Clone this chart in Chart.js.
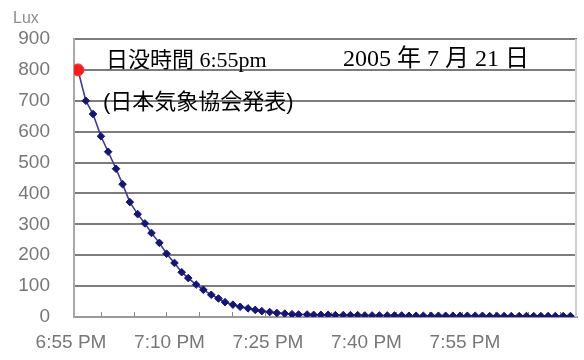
<!DOCTYPE html>
<html><head><meta charset="utf-8">
<script src="https://cdn.jsdelivr.net/npm/chart.js@4"></script>
<style>html,body{margin:0;padding:0;background:#fff}#wrap{width:584px;height:360px}</style>
</head><body><div id="wrap"><canvas id="c" width="584" height="360"></canvas></div>
<script>
// minutes after 6:55 PM
const minutes = [0.6,1.8,2.9,4.1,5.2,6.4,7.4,8.5,9.7,10.8,
  11.8,13.0,14.1,15.3,16.4,17.4,18.6,19.7,20.9,22.0,
  23.0,24.2,25.3,26.5,27.6,28.6,29.8,30.9,32.1,33.2,
  34.2,35.5,36.5,37.6,38.7,39.8,41.0,42.1,43.2,44.3,
  45.4,46.5,47.7,48.8,49.9,51.0,52.1,53.2,54.4,55.5,
  56.6,57.7,58.8,59.9,61.1,62.2,63.3,64.4,65.5,66.6,
  67.8,68.9,70.0,71.1,72.2,73.3,74.5,75.6];
const lux = [800,700,657,585,535,480,430,372,333,303,
  272,240,205,175,145,126,105,88,72,60,
  48,40,33,28,23,19,16,13,11,9,
  8,8,7,7,7,6,6,6,6,5,
  5,5,5,5,5,4,4,4,4,4,
  4,4,4,4,4,4,3,3,3,3,
  3,3,3,3,3,3,3,3];
const xTickMinutes = [0,15,30,45,60];
const xTickLabels = ['6:55 PM','7:10 PM','7:25 PM','7:40 PM','7:55 PM'];
const xMinorMinutes = [5,10,15,20,25,30,35,40,45,50,55,60,65,70,75];
const yMin = 0, yMax = 900, yStep = 100;
const xMin = 0, xMax = 76.6;
const yUnit = 'Lux';
const noteSunset = '日没時間 6:55pm';
const noteDate = '2005 年 7 月 21 日';
const noteSource = '(日本気象協会発表)';

const points = minutes.map((m, i) => ({x: m, y: lux[i]}));

const deco = {
  id: 'deco',
  beforeDraw(chart) {
    const c = chart.ctx;
    c.save(); c.fillStyle = '#fff'; c.fillRect(0, 0, chart.width, chart.height); c.restore();
  },
  beforeDatasetsDraw(chart) {
    const c = chart.ctx, a = chart.chartArea, xs = chart.scales.x;
    c.save();
    c.strokeStyle = '#cfcfcf'; c.lineWidth = 2;
    c.beginPath(); c.moveTo(a.right - 1, a.top); c.lineTo(a.right - 1, a.bottom); c.stroke();
    c.strokeStyle = '#8a8a8a'; c.lineWidth = 1;
    xMinorMinutes.forEach(m => {
      const px = Math.round(xs.getPixelForValue(m)) - 5.5;
      c.beginPath(); c.moveTo(px, a.bottom); c.lineTo(px, a.bottom - 5); c.stroke();
    });
    c.restore();
  },
  afterDraw(chart) {
    const c = chart.ctx, a = chart.chartArea;
    c.save();
    c.textBaseline = 'middle'; c.textAlign = 'left';
    c.fillStyle = '#8c8c8c';
    c.font = '16px "Liberation Sans", Arial, sans-serif';
    c.fillText(yUnit, 13, 19);
    c.fillStyle = '#000';
    c.font = '22px "Liberation Serif", "Noto Sans CJK JP", serif';
    c.fillText(noteSunset, a.left + 32, a.top + 22);
    c.font = '24px "Liberation Serif", "Noto Sans CJK JP", serif';
    c.fillText(noteDate, a.left + 269, a.top + 21);
    c.font = '22px "Liberation Sans", "Noto Sans CJK JP", sans-serif';
    c.fillText(noteSource, a.left + 29, a.top + 64);
    c.restore();
  }
};

new Chart(document.getElementById('c'), {
  type: 'line',
  data: {
    datasets: [{
      data: points,
      borderColor: '#3a3a98',
      borderWidth: 1.6,
      pointStyle: ctx => ctx.dataIndex === 0 ? 'circle' : 'rectRot',
      pointRadius: ctx => ctx.dataIndex === 0 ? 6 : 3.8,
      pointBackgroundColor: ctx => ctx.dataIndex === 0 ? '#ff1a1a' : '#14147c',
      pointBorderColor: ctx => ctx.dataIndex === 0 ? '#ff3030' : '#14147c',
      pointBorderWidth: 1,
      tension: 0,
      fill: false
    }]
  },
  options: {
    responsive: false,
    animation: false,
    devicePixelRatio: 1,
    layout: {padding: {left: 0, right: 4, top: 39, bottom: 0}},
    plugins: {legend: {display: false}, tooltip: {enabled: false}},
    scales: {
      x: {
        type: 'linear', min: xMin, max: xMax,
        afterBuildTicks: s => { s.ticks = xTickMinutes.map(v => ({value: v})); },
        afterFit: s => { s.height = 43; },
        grid: {display: false, drawTicks: false},
        border: {display: true, color: '#9a9a9a', width: 2},
        ticks: {
          autoSkip: false, maxRotation: 0, padding: 14, labelOffset: -3,
          color: '#777',
          font: {family: '"Liberation Sans", Arial, sans-serif', size: 19},
          callback: v => { const i = xTickMinutes.indexOf(v); return i >= 0 ? xTickLabels[i] : ''; }
        }
      },
      y: {
        min: yMin, max: yMax,
        afterFit: s => { s.width = 74; },
        grid: {color: '#7c7c7c', lineWidth: 2, drawTicks: false},
        border: {display: true, color: '#a8a8a8', width: 2},
        ticks: {
          stepSize: yStep, padding: 24, color: '#777',
          font: {family: '"Liberation Sans", Arial, sans-serif', size: 19}
        }
      }
    }
  },
  plugins: [deco]
});
</script>
</body></html>
